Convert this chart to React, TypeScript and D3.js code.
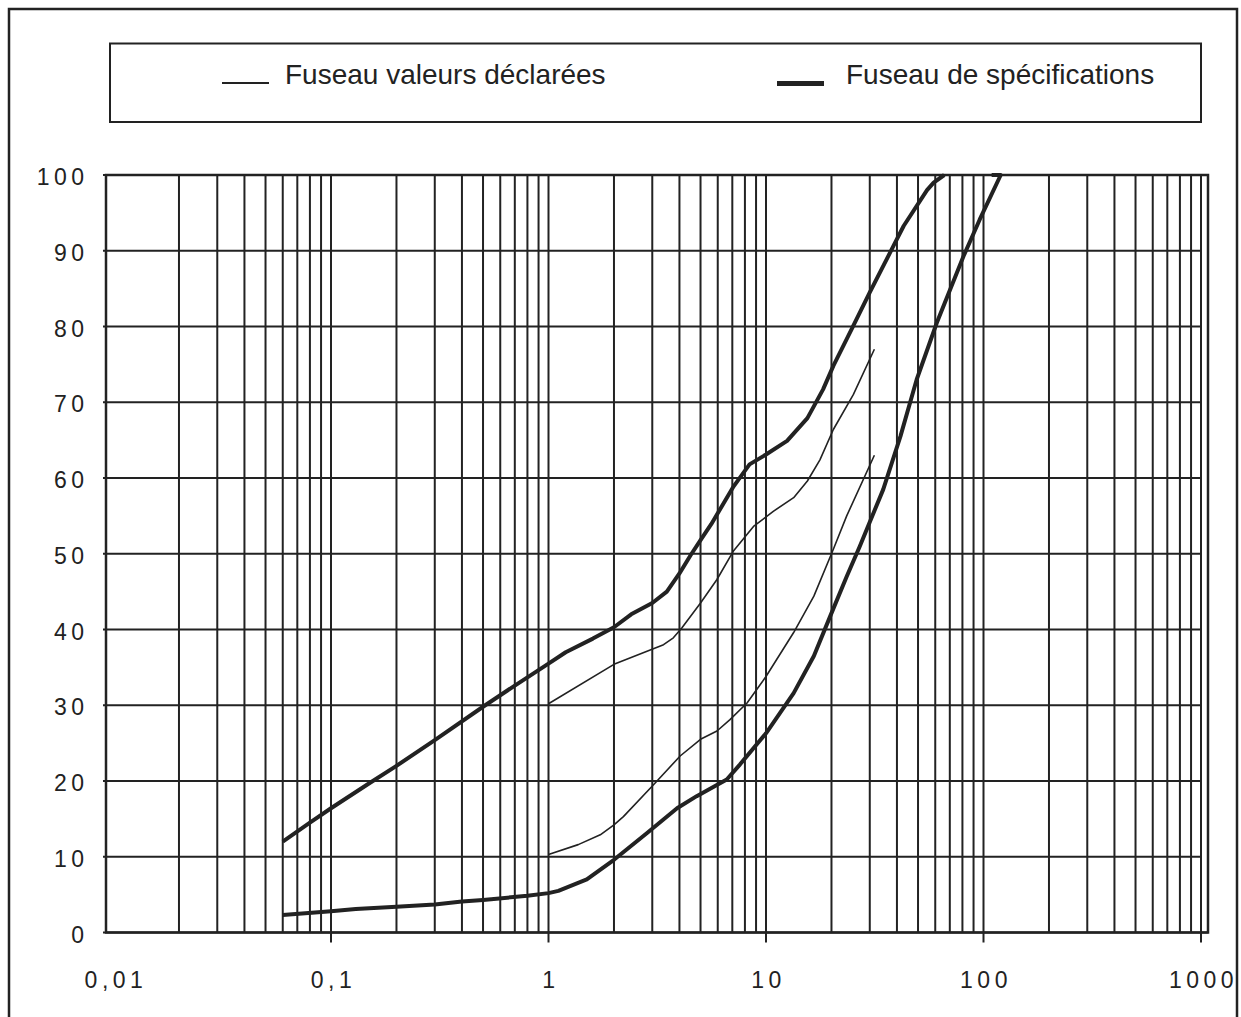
import React from "react";
import * as d3 from "d3";

const xDecades = [0.01, 0.1, 1, 10, 100, 1000];
const xTickLabels = ["0,01", "0,1", "1", "10", "100", "1000"];
const yTicks = [0, 10, 20, 30, 40, 50, 60, 70, 80, 90, 100];
const legendLabels = ["Fuseau valeurs déclarées", "Fuseau de spécifications"];

// Fuseau de spécifications (thick)
const specUpper: [number, number][] = [
  [0.06, 12], [0.08, 14.5], [0.1, 16.4], [0.15, 19.7], [0.2, 22], [0.3, 25.4],
  [0.5, 29.8], [0.7, 32.6], [1, 35.5], [1.2, 37], [1.6, 38.8], [2, 40.3],
  [2.4, 42], [3, 43.5], [3.5, 45], [4, 47.4], [4.5, 49.8], [5, 51.8], [5.6, 53.9],
  [7.1, 58.9], [8.4, 61.8], [10, 63.1], [12.5, 64.9], [15.5, 67.9], [18.3, 71.7],
  [20.4, 74.8], [24.7, 79.6], [30, 84.5], [38.5, 90.6], [43, 93.3], [55, 98],
  [59, 99], [66, 100],
];
const specLower: [number, number][] = [
  [0.06, 2.3], [0.1, 2.8], [0.13, 3.1], [0.2, 3.4], [0.3, 3.7], [0.4, 4.1],
  [0.5, 4.3], [0.8, 4.85], [1, 5.2], [1.11, 5.5], [1.5, 7.0], [2, 9.6],
  [2.83, 13.1], [3.9, 16.4], [4.8, 18.0], [6.6, 20.2], [7.6, 22.2], [10, 26.3],
  [13.4, 31.6], [16.6, 36.5], [19.7, 41.7], [23.5, 47], [27, 51], [34.6, 58.5],
  [41.5, 65.5], [49.3, 73], [61, 80.5], [81, 89.3], [96, 94.1], [120, 100],
  [109, 100],
];

// Fuseau valeurs déclarées (thin)
const declaredUpper: [number, number][] = [
  [1, 30.2], [2, 35.4], [3.38, 38], [3.75, 38.9], [4.1, 40.2], [5, 43.5],
  [5.95, 46.6], [7.1, 50.4], [8.76, 53.6], [10.8, 55.6], [13.4, 57.4],
  [15.5, 59.6], [17.7, 62.4], [20.4, 66.4], [25.2, 71], [31.5, 77],
];
const declaredLower: [number, number][] = [
  [1, 10.3], [1.37, 11.6], [1.73, 12.9], [2, 14.2], [2.21, 15.3], [3.04, 19.5],
  [4.03, 23.3], [5, 25.5], [5.95, 26.6], [6.83, 28.1], [8.18, 30.3], [10, 33.8],
  [13.4, 39.6], [16.6, 44.4], [20.4, 50.6], [23.5, 55], [31.5, 63],
];

const INK = "#222";
const FONT = "'Liberation Sans', Arial, Helvetica, sans-serif";

export default function App() {
  const x = d3.scaleLog().domain([0.01, 1000]).range([113.5, 1201]);
  const y = d3.scaleLinear().domain([0, 100]).range([932.5, 175]);
  const line = d3
    .line<[number, number]>()
    .x((d) => x(d[0]))
    .y((d) => y(d[1]));

  const minor: number[] = [];
  xDecades.slice(0, -1).forEach((dec) => {
    for (let k = 2; k <= 10; k++) minor.push(+(dec * k).toPrecision(6));
  });

  const frameL = 106;
  const frameR = 1208;
  const top = y(100);
  const bottom = y(0);

  return (
    <svg
      width={1241}
      height={1017}
      style={{ position: "absolute", left: 0, top: 0, display: "block", background: "#fff" }}
    >
      <rect x={0} y={0} width={1241} height={1017} fill="#fff" />
      {/* outer border */}
      <rect x={9} y={9} width={1228} height={1030} fill="none" stroke={INK} strokeWidth={2.5} />
      {/* legend */}
      <rect x={110} y={43.5} width={1091} height={78.5} fill="none" stroke={INK} strokeWidth={2} />
      <line x1={222} x2={269} y1={83} y2={83} stroke={INK} strokeWidth={2} />
      <text x={285} y={84} fontFamily={FONT} fontSize={28} fill={INK}>{legendLabels[0]}</text>
      <line x1={777} x2={824} y1={83.5} y2={83.5} stroke={INK} strokeWidth={5} />
      <text x={846} y={84} fontFamily={FONT} fontSize={28} fill={INK}>{legendLabels[1]}</text>

      {/* horizontal grid */}
      {yTicks.map((t) => (
        <line
          key={"h" + t}
          x1={103}
          x2={t === 0 || t === 100 ? frameR : x(1000)}
          y1={y(t)}
          y2={y(t)}
          stroke={INK}
          strokeWidth={2}
        />
      ))}
      {/* vertical grid */}
      {minor.map((v) => (
        <line key={"v" + v} x1={x(v)} x2={x(v)} y1={top} y2={bottom} stroke={INK} strokeWidth={2} />
      ))}
      {xDecades.slice(1).map((v) => (
        <line key={"t" + v} x1={x(v)} x2={x(v)} y1={bottom} y2={bottom + 10} stroke={INK} strokeWidth={2} />
      ))}
      {/* frame */}
      <rect x={frameL} y={top} width={frameR - frameL} height={bottom - top} fill="none" stroke={INK} strokeWidth={2.5} />

      {/* y labels */}
      {yTicks.map((t) => (
        <text
          key={"yl" + t}
          x={88.5}
          y={y(t) + 10}
          textAnchor="end"
          fontFamily={FONT}
          fontSize={23}
          letterSpacing={4.5}
          fill={INK}
        >
          {String(t)}
        </text>
      ))}
      {/* x labels */}
      {xDecades.map((v, i) => (
        <text
          key={"xl" + v}
          x={x(v) + 2.5}
          y={988}
          textAnchor="middle"
          fontFamily={FONT}
          fontSize={23}
          letterSpacing={4.5}
          fill={INK}
        >
          {xTickLabels[i]}
        </text>
      ))}

      {/* curves */}
      <path d={line(declaredUpper) || ""} fill="none" stroke={INK} strokeWidth={1.6} strokeLinejoin="round" />
      <path d={line(declaredLower) || ""} fill="none" stroke={INK} strokeWidth={1.6} strokeLinejoin="round" />
      <path d={line(specUpper) || ""} fill="none" stroke={INK} strokeWidth={4} strokeLinejoin="round" />
      <path d={line(specLower) || ""} fill="none" stroke={INK} strokeWidth={4} strokeLinejoin="round" />
    </svg>
  );
}
